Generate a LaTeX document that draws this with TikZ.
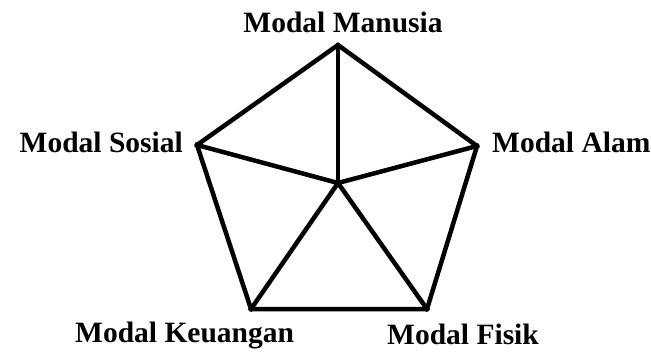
\documentclass[tikz,border=0pt]{standalone}
\usepackage{fontspec}
\setmainfont{Liberation Serif}
\tikzset{
  modal/.style={font=\fontsize{29.5}{34}\selectfont\bfseries, inner sep=0pt},
  sisi/.style={line width=4.5pt, line join=miter, line cap=rect}
}
\begin{document}
\begin{tikzpicture}[x=1pt, y=-1pt]
    \useasboundingbox (0,0) rectangle (651,351);
    \coordinate (manusia) at (338,45);
    \coordinate (alam) at (477,146);
    \coordinate (fisik) at (427,309);
    \coordinate (keuangan) at (251,309);
    \coordinate (sosial) at (197,145);
    \coordinate (pusat) at (338,183);

    % Segilima
    \draw[sisi] (manusia) -- (alam) -- (fisik) -- (keuangan) -- (sosial) -- cycle;

    % Garis ke pusat
    \foreach \v in {manusia, alam, fisik, keuangan, sosial}
        \draw[sisi] (pusat) -- (\v);

    % Label
    \node[modal, anchor=base] (lmanusia) at (343,32) {Modal Manusia};
    \node[modal, anchor=base west] (lalam) at (492,152) {Modal Alam};
    \node[modal, anchor=base east] (lsosial) at (183,152) {Modal Sosial};
    \node[modal, anchor=base west] (lkeuangan) at (75,342) {Modal Keuangan};
    \node[modal, anchor=base west] (lfisik) at (387,344) {Modal Fisik};
\end{tikzpicture}
\end{document}
